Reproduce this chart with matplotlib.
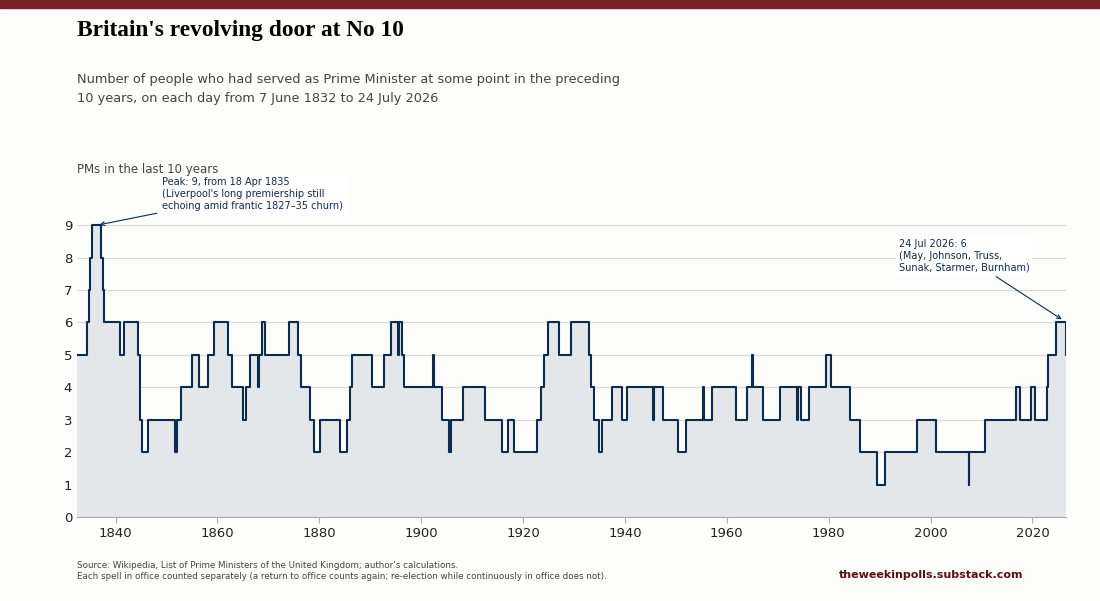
import matplotlib
matplotlib.use("Agg")
import matplotlib.pyplot as plt
from matplotlib.patches import Rectangle

years = [1832.43, 1834.4, 1834.8, 1834.95, 1835.3, 1837.2, 1837.5, 1837.8, 1840.8, 1841.6, 1844.5, 1844.8, 1845.2,
         1846.3, 1851.6, 1852.0, 1852.9, 1855.0, 1856.4, 1858.1, 1859.4, 1862.0, 1862.9, 1865.0, 1865.7, 1866.4,
         1868.05, 1868.15, 1868.8, 1869.4, 1874.0, 1875.8, 1876.5, 1878.1, 1878.9, 1880.2, 1884.1, 1885.5, 1886.1,
         1886.5, 1890.3, 1892.6, 1894.1, 1895.4, 1895.7, 1896.2, 1896.6, 1902.4, 1902.55, 1904.1, 1905.4, 1905.8,
         1908.2, 1912.6, 1915.9, 1917.0, 1918.2, 1922.8, 1923.6, 1924.1, 1924.9, 1927.0, 1929.5, 1932.9, 1933.4,
         1934.0, 1934.9, 1935.5, 1937.4, 1939.4, 1940.4, 1945.5, 1945.65, 1947.4, 1950.4, 1951.9, 1955.3, 1955.45,
         1957.1, 1961.8, 1963.9, 1964.9, 1965.2, 1967.1, 1970.5, 1973.75, 1973.9, 1974.6, 1976.2, 1979.5, 1980.5,
         1984.2, 1986.2, 1989.5, 1991.0, 1997.4, 2001.0, 2007.45, 2007.6, 2010.6, 2016.7, 2017.6, 2019.8, 2020.5,
         2022.8, 2023.0, 2024.6, 2026.52, 2026.56]
values = [5, 6, 7, 8, 9, 8, 7, 6, 5, 6, 5, 3, 2,
          3, 2, 3, 4, 5, 4, 5, 6, 5, 4, 3, 4, 5,
          4, 5, 6, 5, 6, 5, 4, 3, 2, 3, 2, 3, 4,
          5, 4, 5, 6, 5, 6, 5, 4, 5, 4, 3, 2, 3,
          4, 3, 2, 3, 2, 3, 4, 5, 6, 5, 6, 5, 4,
          3, 2, 3, 4, 3, 4, 3, 4, 3, 2, 3, 4, 3,
          4, 3, 4, 5, 4, 3, 4, 3, 4, 3, 4, 5, 4,
          3, 2, 1, 2, 3, 2, 1, 2, 3, 4, 3, 4, 3,
          4, 5, 6, 5, 5]

yticks = list(range(0, 10))
xticks = [1840, 1860, 1880, 1900, 1920, 1940, 1960, 1980, 2000, 2020]

bg = "#fdfdfb"
line_c = "#0d2b4e"
fig = plt.figure(figsize=(11, 6.01), dpi=100, facecolor=bg)
fig.add_artist(Rectangle((0, 0.987), 1, 0.013, transform=fig.transFigure, color="#7a2226"))
ax = fig.add_axes([0.07, 0.1398, 0.899, 0.507], facecolor=bg)
ax.fill_between(years, values, step="post", color="#e4e7e9", lw=0)
ax.step(years, values, where="post", color=line_c, lw=1.5)
ax.set_xlim(1832.43, 2026.56)
ax.set_ylim(0, 9.4)
ax.set_yticks(yticks)
ax.set_xticks(xticks)
ax.grid(axis="y", color="#d8d8d8", lw=0.8)
ax.set_axisbelow(True)
for s in ["top", "right", "left"]:
    ax.spines[s].set_visible(False)
ax.spines["bottom"].set_color("#aaaaaa")
ax.tick_params(axis="both", length=0, labelsize=9.5, colors="#222222")
ax.tick_params(axis="x", length=4, color="#aaaaaa")

fig.text(0.07, 0.95, "Britain's revolving door at No 10", fontsize=16.8, fontweight="bold",
         family="Liberation Serif", va="center")
fig.text(0.07, 0.852, "Number of people who had served as Prime Minister at some point in the preceding\n10 years, on each day from 7 June 1832 to 24 July 2026",
         fontsize=9.3, color="#444444", va="center", linespacing=1.55)
fig.text(0.07, 0.718, "PMs in the last 10 years", fontsize=8.5, color="#444444", va="center")

ax.annotate("Peak: 9, from 18 Apr 1835\n(Liverpool's long premiership still\nechoing amid frantic 1827–35 churn)",
            xy=(1836.3, 9), xytext=(1849.2, 9.45), fontsize=7, color=line_c, va="bottom",
            arrowprops=dict(arrowstyle="->", color=line_c, lw=0.8),
            bbox=dict(boxstyle="square,pad=0.3", fc="white", ec="none"))
ax.annotate("24 Jul 2026: 6\n(May, Johnson, Truss,\nSunak, Starmer, Burnham)",
            xy=(2026.2, 6.05), xytext=(1993.7, 7.55), fontsize=7, color=line_c, va="bottom",
            arrowprops=dict(arrowstyle="->", color=line_c, lw=0.8),
            bbox=dict(boxstyle="square,pad=0.3", fc="white", ec="none"))

fig.text(0.07, 0.05, "Source: Wikipedia, List of Prime Ministers of the United Kingdom; author's calculations.\nEach spell in office counted separately (a return to office counts again; re-election while continuously in office does not).",
         fontsize=6.3, color="#444444", va="center")
fig.text(0.93, 0.043, "theweekinpolls.substack.com", fontsize=8, fontweight="bold", color="#5a0f14",
         ha="right", va="center")
fig.savefig("out.png", dpi=100, facecolor=bg)
